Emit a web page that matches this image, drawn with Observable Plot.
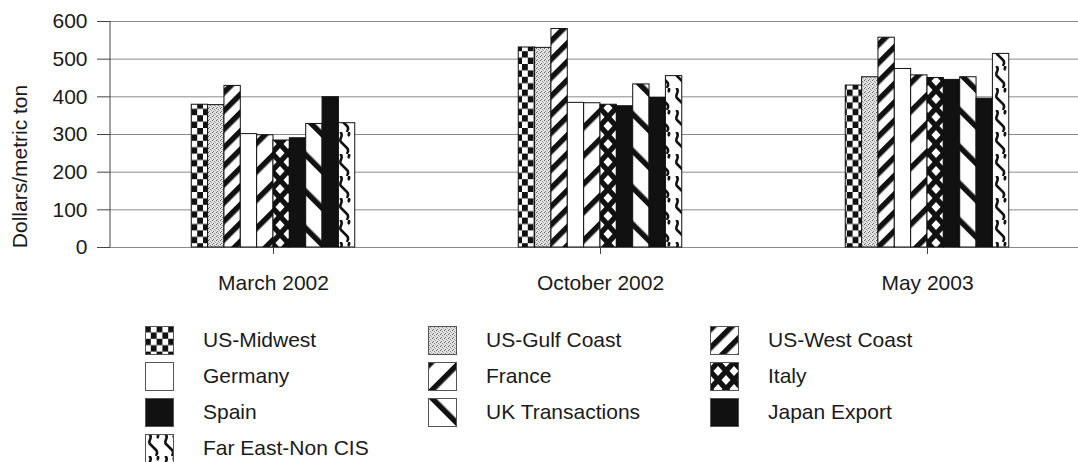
<!DOCTYPE html>
<html>
<head>
<meta charset="utf-8">
<script src="https://cdn.jsdelivr.net/npm/d3@7"></script>
<script src="https://cdn.jsdelivr.net/npm/@observablehq/plot@0.6"></script>
<style>
  html, body { margin: 0; padding: 0; background: #fff; }
  body { width: 1078px; height: 462px; overflow: hidden; font-family: "Liberation Sans", Arial, sans-serif; color: #1a1a1a; }
  #legend { display: grid; grid-template-columns: 283px 282px 300px; margin-left: 145px; padding-top: 17px; }
  .item { display: flex; align-items: center; height: 36px; font-size: 21px; }
  .item svg { flex: none; margin-right: 29px; }
</style>
</head>
<body>
<svg width="0" height="0" style="position:absolute">
  <defs>
    <pattern id="p-midwest" patternUnits="userSpaceOnUse" width="11.6" height="12.8">
      <rect width="11.6" height="12.8" fill="#fff"/>
      <rect x="0" y="0" width="5.8" height="6.4" fill="#111"/>
      <rect x="5.8" y="6.4" width="5.8" height="6.4" fill="#111"/>
    </pattern>
    <pattern id="p-gulf" patternUnits="userSpaceOnUse" width="4" height="4">
      <rect width="4" height="4" fill="#e2e2e2"/>
      <rect x="0" y="0" width="1" height="1" fill="#666"/>
      <rect x="2" y="1" width="1" height="1" fill="#888"/>
      <rect x="1" y="3" width="1" height="1" fill="#777"/>
      <rect x="3" y="2" width="1" height="1" fill="#aaa"/>
    </pattern>
    <pattern id="p-west" patternUnits="userSpaceOnUse" width="13" height="13" patternTransform="rotate(45)">
      <rect width="13" height="13" fill="#fff"/>
      <rect x="0" y="0" width="5.5" height="13" fill="#111"/>
    </pattern>
    <pattern id="p-france" patternUnits="userSpaceOnUse" width="20" height="20" patternTransform="rotate(45)">
      <rect width="20" height="20" fill="#fff"/>
      <rect x="0" y="0" width="5.5" height="20" fill="#111"/>
    </pattern>
    <pattern id="p-italy" patternUnits="userSpaceOnUse" width="16" height="18">
      <rect width="16" height="18" fill="#111"/>
      <polygon points="8,4 12.5,9 8,14 3.5,9" fill="#fff"/>
      <polygon points="0,-5 4.5,0 0,5 -4.5,0" fill="#fff"/>
      <polygon points="16,-5 20.5,0 16,5 11.5,0" fill="#fff"/>
      <polygon points="0,13 4.5,18 0,23 -4.5,18" fill="#fff"/>
      <polygon points="16,13 20.5,18 16,23 11.5,18" fill="#fff"/>
    </pattern>
    <pattern id="p-uk" patternUnits="userSpaceOnUse" width="26" height="26" patternTransform="rotate(-45)">
      <rect width="26" height="26" fill="#fff"/>
      <rect x="0" y="0" width="5.5" height="26" fill="#111"/>
    </pattern>
    <pattern id="p-fareast" patternUnits="userSpaceOnUse" width="16" height="22">
      <rect width="16" height="22" fill="#fff"/>
      <path d="M4,0 C9,3 2,7 5,10 L11,16 C14,19 10,21 12,22" fill="none" stroke="#111" stroke-width="2.6"/>
      <path d="M12,0 C14,1 13,3 12,4" fill="none" stroke="#111" stroke-width="2.6"/>
    </pattern>
  </defs>
</svg>
<div id="chart"></div>
<div id="legend"></div>
<script>
const groups = ["March 2002", "October 2002", "May 2003"];
const series = ["US-Midwest", "US-Gulf Coast", "US-West Coast", "Germany", "France", "Italy", "Spain", "UK Transactions", "Japan Export", "Far East-Non CIS"];
const patterns = ["url(#p-midwest)", "url(#p-gulf)", "url(#p-west)", "#ffffff", "url(#p-france)", "url(#p-italy)", "#111111", "url(#p-uk)", "#111111", "url(#p-fareast)"];
const march2002 = [379, 378, 429, 301, 298, 284, 290, 328, 399, 330];
const october2002 = [531, 530, 580, 384, 383, 379, 375, 433, 397, 455];
const may2003 = [430, 452, 557, 474, 457, 450, 445, 452, 395, 514];
const yTicks = [0, 100, 200, 300, 400, 500, 600];
const yLabel = "Dollars/metric ton";

const valuesByGroup = [march2002, october2002, may2003];
const rows = [];
valuesByGroup.forEach((vals, gi) => {
  vals.forEach((v, si) => {
    rows.push({group: gi, series: si, value: v, pattern: patterns[si]});
  });
});

const chart = Plot.plot({
  width: 1078,
  height: 305,
  marginLeft: 110,
  marginRight: 0,
  marginTop: 21,
  marginBottom: 58,
  style: {fontFamily: "Liberation Sans, Arial, sans-serif", fontSize: "21px", color: "#1a1a1a", background: "#fff"},
  x: {type: "linear", domain: [-0.5, 2.5], range: [109.5, 1090.5]},
  y: {domain: [0, 600]},
  color: {type: "identity"},
  marks: [
    Plot.ruleY(yTicks, {stroke: "#8a8a8a", strokeWidth: 1}),
    Plot.rect(rows, {
      x1: d => d.group - 0.25 + d.series * 0.05,
      x2: d => d.group - 0.25 + (d.series + 1) * 0.05,
      y1: 0,
      y2: "value",
      fill: "pattern",
      stroke: "#111",
      strokeWidth: 1
    }),
    Plot.ruleX([-0.5], {y1: 0, y2: 600, stroke: "#444"}),
    Plot.axisY({ticks: yTicks, tickSize: 13, tickPadding: 10, fontSize: 21, label: null, stroke: "#444"}),
    Plot.axisX({ticks: [0, 1, 2], tickFormat: i => groups[i], tickSize: 7, tickPadding: 21, fontSize: 21, label: null, stroke: "#444"}),
    Plot.text([yLabel], {text: d => d, frameAnchor: "left", textAnchor: "middle", rotate: -90, dx: -90, dy: 32, fontSize: 21, fill: "#1a1a1a"})
  ]
});
document.getElementById("chart").appendChild(chart);

const legend = document.getElementById("legend");
series.forEach((name, i) => {
  const item = document.createElement("div");
  item.className = "item";
  item.innerHTML = `<svg width="29" height="29"><rect x="0.5" y="0.5" width="28" height="28" fill="${patterns[i]}" stroke="#555" stroke-width="1"/></svg><span>${name}</span>`;
  legend.appendChild(item);
});
</script>
</body>
</html>
